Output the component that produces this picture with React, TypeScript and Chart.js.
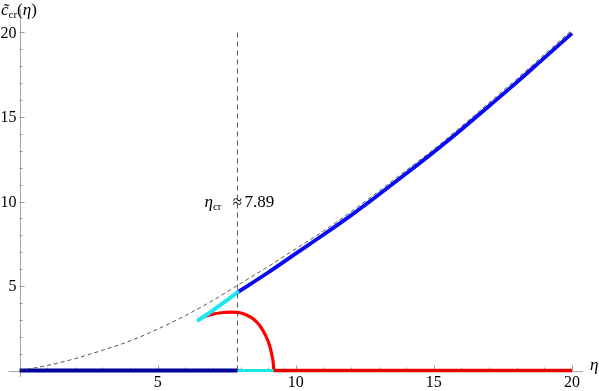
import React, { useEffect, useRef, useState } from "react";
import { Chart, registerables } from "chart.js";

Chart.register(...registerables);

// ---- data ----
const xTickValues = [5, 10, 15, 20];
const xTickLabels = ["5", "10", "15", "20"];
const yTickValues = [5, 10, 15, 20];
const yTickLabels = ["5", "10", "15", "20"];
const minorTickValues = [1, 2, 3, 4, 6, 7, 8, 9, 11, 12, 13, 14, 16, 17, 18, 19];

const envelopeX = [0, 1, 2, 3, 4, 5, 6, 7, 8, 9, 10, 11, 12, 13, 14, 15, 16, 17, 18, 19, 20];
const envelopeY = [0, 0.3, 0.7, 1.2, 1.75, 2.45, 3.25, 4.15, 5.15, 6.15, 7.2, 8.25, 9.4, 10.6, 11.85, 13.1, 14.45, 15.85, 17.25, 18.7, 20.15];

const upperX = [7.89, 9, 10, 11, 12, 13, 14, 15, 16, 17, 18, 19, 20];
const upperY = [4.62, 5.8, 6.92, 8.03, 9.18, 10.4, 11.65, 12.93, 14.26, 15.65, 17.05, 18.5, 19.95];

const cyanX = [6.48, 6.8, 7.2, 7.6, 7.89];
const cyanY = [2.98, 3.33, 3.8, 4.27, 4.62];

const redX = [6.48, 6.6, 6.8, 7.0, 7.3, 7.6, 7.9, 8.2, 8.5, 8.7, 8.9, 9.05, 9.15, 9.19, 9.2];
const redY = [2.98, 3.12, 3.25, 3.34, 3.42, 3.46, 3.44, 3.3, 3.0, 2.65, 2.1, 1.5, 0.8, 0.35, 0.0];

const etaCr = 7.89;
const etaCrLabel = "7.89";
const etaCrTop = 20;
const zeroNavyX = [0, 7.89];
const zeroCyanX = [7.89, 9.2];
const zeroRedX = [9.2, 20];

const xRange = [-0.4, 20.4];
const yRange = [-0.5, 21.4];

const pts = (xs: number[], ys: number[]) => xs.map((x, i) => ({ x, y: ys[i] }));
const zeroPts = (xs: number[]) => xs.map((x) => ({ x, y: 0 }));

const FONT = "Liberation Serif";
const ASC = 0.8375; // baseline offset in em for line-height 1

const axesPlugin = {
  id: "mmaAxes",
  beforeDatasetsDraw(chart: any) {
    const { ctx, chartArea, scales } = chart;
    const xs = scales.x;
    const ys = scales.y;
    const x0 = xs.getPixelForValue(0);
    const y0 = ys.getPixelForValue(0);
    ctx.save();
    ctx.strokeStyle = "#a8a8a8";
    ctx.lineWidth = 1;
    ctx.beginPath();
    ctx.moveTo(chartArea.left, Math.round(y0) + 0.5);
    ctx.lineTo(chartArea.right, Math.round(y0) + 0.5);
    ctx.moveTo(Math.round(x0) + 0.5, chartArea.bottom - 2);
    ctx.lineTo(Math.round(x0) + 0.5, chartArea.top);
    ctx.stroke();
    ctx.strokeStyle = "#999";
    ctx.beginPath();
    xTickValues.forEach((v) => {
      const p = Math.round(xs.getPixelForValue(v)) + 0.5;
      ctx.moveTo(p, y0);
      ctx.lineTo(p, y0 - 5);
    });
    minorTickValues.forEach((v) => {
      const p = Math.round(xs.getPixelForValue(v)) + 0.5;
      ctx.moveTo(p, y0);
      ctx.lineTo(p, y0 - 3);
    });
    yTickValues.forEach((v) => {
      const p = Math.round(ys.getPixelForValue(v)) + 0.5;
      ctx.moveTo(x0, p);
      ctx.lineTo(x0 + 5, p);
    });
    minorTickValues.forEach((v) => {
      const p = Math.round(ys.getPixelForValue(v)) + 0.5;
      ctx.moveTo(x0, p);
      ctx.lineTo(x0 + 3, p);
    });
    ctx.stroke();
    ctx.restore();
  },
};

type Geo = { x0: number; y0: number; xt: number[]; yt: number[]; lx: number };

const Txt = ({ x, base, size, align = "left", children }: any) => {
  const style: any = {
    position: "absolute",
    top: base - ASC * size,
    fontFamily: FONT,
    fontSize: size,
    lineHeight: 1,
    whiteSpace: "nowrap",
    color: "#000",
  };
  if (align === "left") style.left = x;
  else if (align === "right") style.right = 599 - x;
  else {
    style.left = x;
    style.transform = "translateX(-50%)";
  }
  return <div style={style}>{children}</div>;
};

const Sub = ({ children }: any) => (
  <span style={{ fontSize: 11, fontStyle: "normal", position: "relative", top: 3, lineHeight: 1 }}>{children}</span>
);
const I = ({ children }: any) => <span style={{ fontStyle: "italic" }}>{children}</span>;

export default function App() {
  const ref = useRef<HTMLCanvasElement | null>(null);
  const [geo, setGeo] = useState<Geo | null>(null);
  useEffect(() => {
    if (!ref.current) return;
    const ds = (data: any[], color: string, width: number, extra: any = {}) => ({
      data,
      borderColor: color,
      backgroundColor: color,
      borderWidth: width,
      pointRadius: 0,
      showLine: true,
      fill: false,
      tension: 0,
      ...extra,
    });
    const chart = new Chart(ref.current, {
      type: "scatter",
      data: {
        datasets: [
          ds(pts(envelopeX, envelopeY), "#444", 0.9, { borderDash: [4, 3], cubicInterpolationMode: "monotone", tension: 0.4 }),
          ds([{ x: etaCr, y: 0 }, { x: etaCr, y: etaCrTop }], "#444", 0.9, { borderDash: [5, 4] }),
          ds(zeroPts(zeroNavyX), "#00009c", 4),
          ds(zeroPts(zeroCyanX), "#17e6e6", 3),
          ds(zeroPts(zeroRedX), "#e80000", 3.6),
          ds(pts(cyanX, cyanY), "#1ee8ee", 4, { borderCapStyle: "round" }),
          ds(pts(redX, redY), "#ff0000", 3.2, { borderCapStyle: "round", cubicInterpolationMode: "monotone", tension: 0.4 }),
          ds(pts(upperX, upperY), "#0a0af5", 3.8, { cubicInterpolationMode: "monotone", tension: 0.4 }),
        ],
      },
      options: {
        animation: false,
        responsive: false,
        devicePixelRatio: 1,
        layout: { padding: { left: 8.5, right: 16, top: 8.8, bottom: 12 } },
        plugins: { legend: { display: false }, tooltip: { enabled: false } },
        scales: {
          x: { type: "linear", min: xRange[0], max: xRange[1], display: false },
          y: { type: "linear", min: yRange[0], max: yRange[1], display: false },
        },
      },
      plugins: [axesPlugin],
    } as any);
    const xs: any = chart.scales.x;
    const ys: any = chart.scales.y;
    setGeo({
      x0: xs.getPixelForValue(0),
      y0: ys.getPixelForValue(0),
      xt: xTickValues.map((v) => xs.getPixelForValue(v)),
      yt: yTickValues.map((v) => ys.getPixelForValue(v)),
      lx: xs.getPixelForValue(etaCr),
    });
    return () => chart.destroy();
  }, []);
  return (
    <div style={{ position: "fixed", left: 0, top: 0, width: 599, height: 391, background: "#fff", overflow: "hidden" }}>
      <canvas ref={ref} width={599} height={391} style={{ display: "block" }} />
      {geo && (
        <>
          {geo.xt.map((px, i) => (
            <Txt key={"x" + i} x={px} base={geo.y0 + 17} size={16} align="center">
              {xTickLabels[i]}
            </Txt>
          ))}
          {geo.yt.map((py, i) => (
            <Txt key={"y" + i} x={geo.x0 - 3} base={py + 5.5} size={16} align="right">
              {yTickLabels[i]}
            </Txt>
          ))}
          <Txt x={590} base={geo.y0} size={17}>
            <I>η</I>
          </Txt>
          <Txt x={1} base={15} size={17}>
            <I>{"c\u0303"}</I>
            <Sub>cr</Sub>(<I>η</I>)
          </Txt>
          <Txt x={geo.lx - 33} base={207} size={17}>
            <I>η</I>
            <Sub>cr</Sub>
          </Txt>
          <Txt x={geo.lx} base={207} size={17} align="center">
            ≈
          </Txt>
          <Txt x={geo.lx + 7} base={207} size={17}>
            {etaCrLabel}
          </Txt>
        </>
      )}
    </div>
  );
}
